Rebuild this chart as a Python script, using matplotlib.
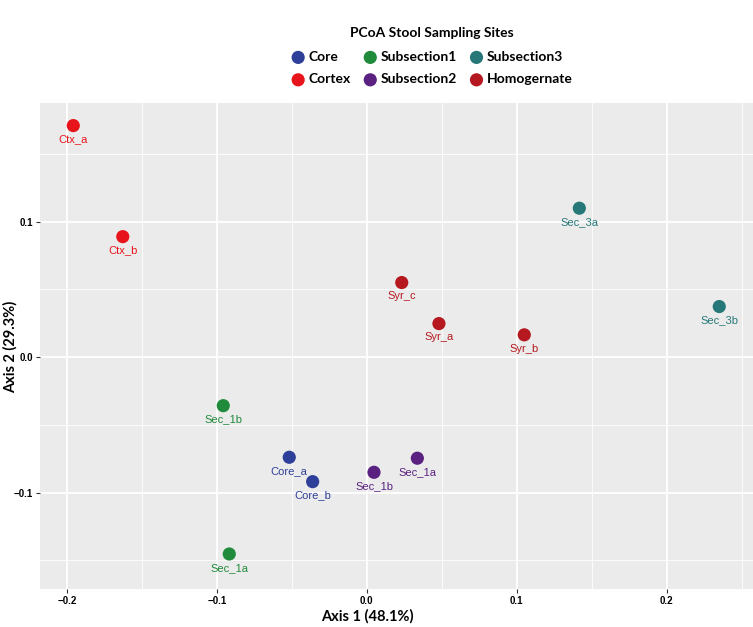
import matplotlib
matplotlib.use('Agg')
import matplotlib.pyplot as plt
from matplotlib.ticker import MultipleLocator, FixedLocator

# sample coordinates
sample_names = ['Core_a', 'Core_b', 'Ctx_a', 'Ctx_b', 'Sec_1b', 'Sec_1a',
                'Sec_1b', 'Sec_1a', 'Sec_3a', 'Sec_3b', 'Syr_c', 'Syr_a', 'Syr_b']
sample_groups = ['Core', 'Core', 'Cortex', 'Cortex', 'Subsection1', 'Subsection1',
                 'Subsection2', 'Subsection2', 'Subsection3', 'Subsection3',
                 'Homogernate', 'Homogernate', 'Homogernate']
axis1 = [-0.0517, -0.0361, -0.1957, -0.1627, -0.0957, -0.0917,
         0.0048, 0.0337, 0.1417, 0.2350, 0.0233, 0.0481, 0.1050]
axis2 = [-0.0739, -0.0919, 0.1710, 0.0890, -0.0358, -0.1453,
         -0.0850, -0.0746, 0.1100, 0.0374, 0.0551, 0.0248, 0.0165]

group_order = ['Core', 'Cortex', 'Subsection1', 'Subsection2', 'Subsection3', 'Homogernate']
group_colors = {
    'Core': '#2E3F99',
    'Cortex': '#E8141B',
    'Subsection1': '#1F8B3B',
    'Subsection2': '#5A2180',
    'Subsection3': '#267878',
    'Homogernate': '#B5191F',
}

x_ticks = [-0.2, -0.1, 0.0, 0.1, 0.2]
x_tick_labels = ['\u22120.2', '\u22120.1', '0.0', '0.1', '0.2']
y_ticks = [-0.1, 0.0, 0.1]
y_tick_labels = ['\u22120.1', '0.0', '0.1']

fig = plt.figure(figsize=(7.53, 6.27), dpi=100)
ax = fig.add_axes([0.0531, 0.0601, 0.9469, 0.7761])
ax.set_facecolor('#EBEBEB')
for s in ax.spines.values():
    s.set_visible(False)

# ggplot-like grid
ax.xaxis.set_major_locator(FixedLocator(x_ticks))
ax.yaxis.set_major_locator(FixedLocator(y_ticks))
ax.xaxis.set_minor_locator(MultipleLocator(0.05))
ax.yaxis.set_minor_locator(MultipleLocator(0.05))
ax.grid(which='major', color='white', linewidth=1.3)
ax.grid(which='minor', color='white', linewidth=0.6)
ax.set_axisbelow(True)
ax.tick_params(which='minor', length=0)
ax.tick_params(which='major', length=3, width=0.8, color='#333333', pad=2)
ax.set_xticklabels(x_tick_labels, family='Liberation Sans', weight='bold', fontsize=7)
ax.set_yticklabels(y_tick_labels, family='Liberation Sans', weight='bold', fontsize=7)

for g in group_order:
    xs = [x for x, gg in zip(axis1, sample_groups) if gg == g]
    ys = [y for y, gg in zip(axis2, sample_groups) if gg == g]
    ax.scatter(xs, ys, s=90, color=group_colors[g], edgecolors='none',
               label=g, zorder=3)

for name, g, x, y in zip(sample_names, sample_groups, axis1, axis2):
    ax.annotate(name, (x, y), xytext=(0, -10), textcoords='offset points',
                ha='center', va='center', fontsize=8, family='Liberation Sans',
                color=group_colors[g], zorder=4)

ax.set_xlim(-0.2179, 0.2575)
ax.set_ylim(-0.1714, 0.1879)

fig.text(367 / 753, 1 - 616 / 627, 'Axis 1 (48.1%)', ha='center', va='center',
         fontsize=10.5, family='Lato', weight='bold')
fig.text(10 / 753, 1 - 347 / 627, 'Axis 2 (29.3%)', ha='center', va='center',
         rotation=90, fontsize=10.5, family='Lato', weight='bold')

leg = fig.legend(loc='center', bbox_to_anchor=(432 / 753, 1 - 56 / 627), ncol=3,
                 frameon=False, title='PCoA Stool Sampling Sites',
                 prop={'family': 'Lato', 'weight': 'bold', 'size': 10},
                 handletextpad=0.25, columnspacing=0.9, labelspacing=0.75,
                 handlelength=1.0, borderpad=0)
leg.get_title().set_fontfamily('Lato')
leg.get_title().set_fontweight('bold')
leg.get_title().set_fontsize(10)
leg._legend_box.sep = 9

fig.savefig('out.png', dpi=100)
